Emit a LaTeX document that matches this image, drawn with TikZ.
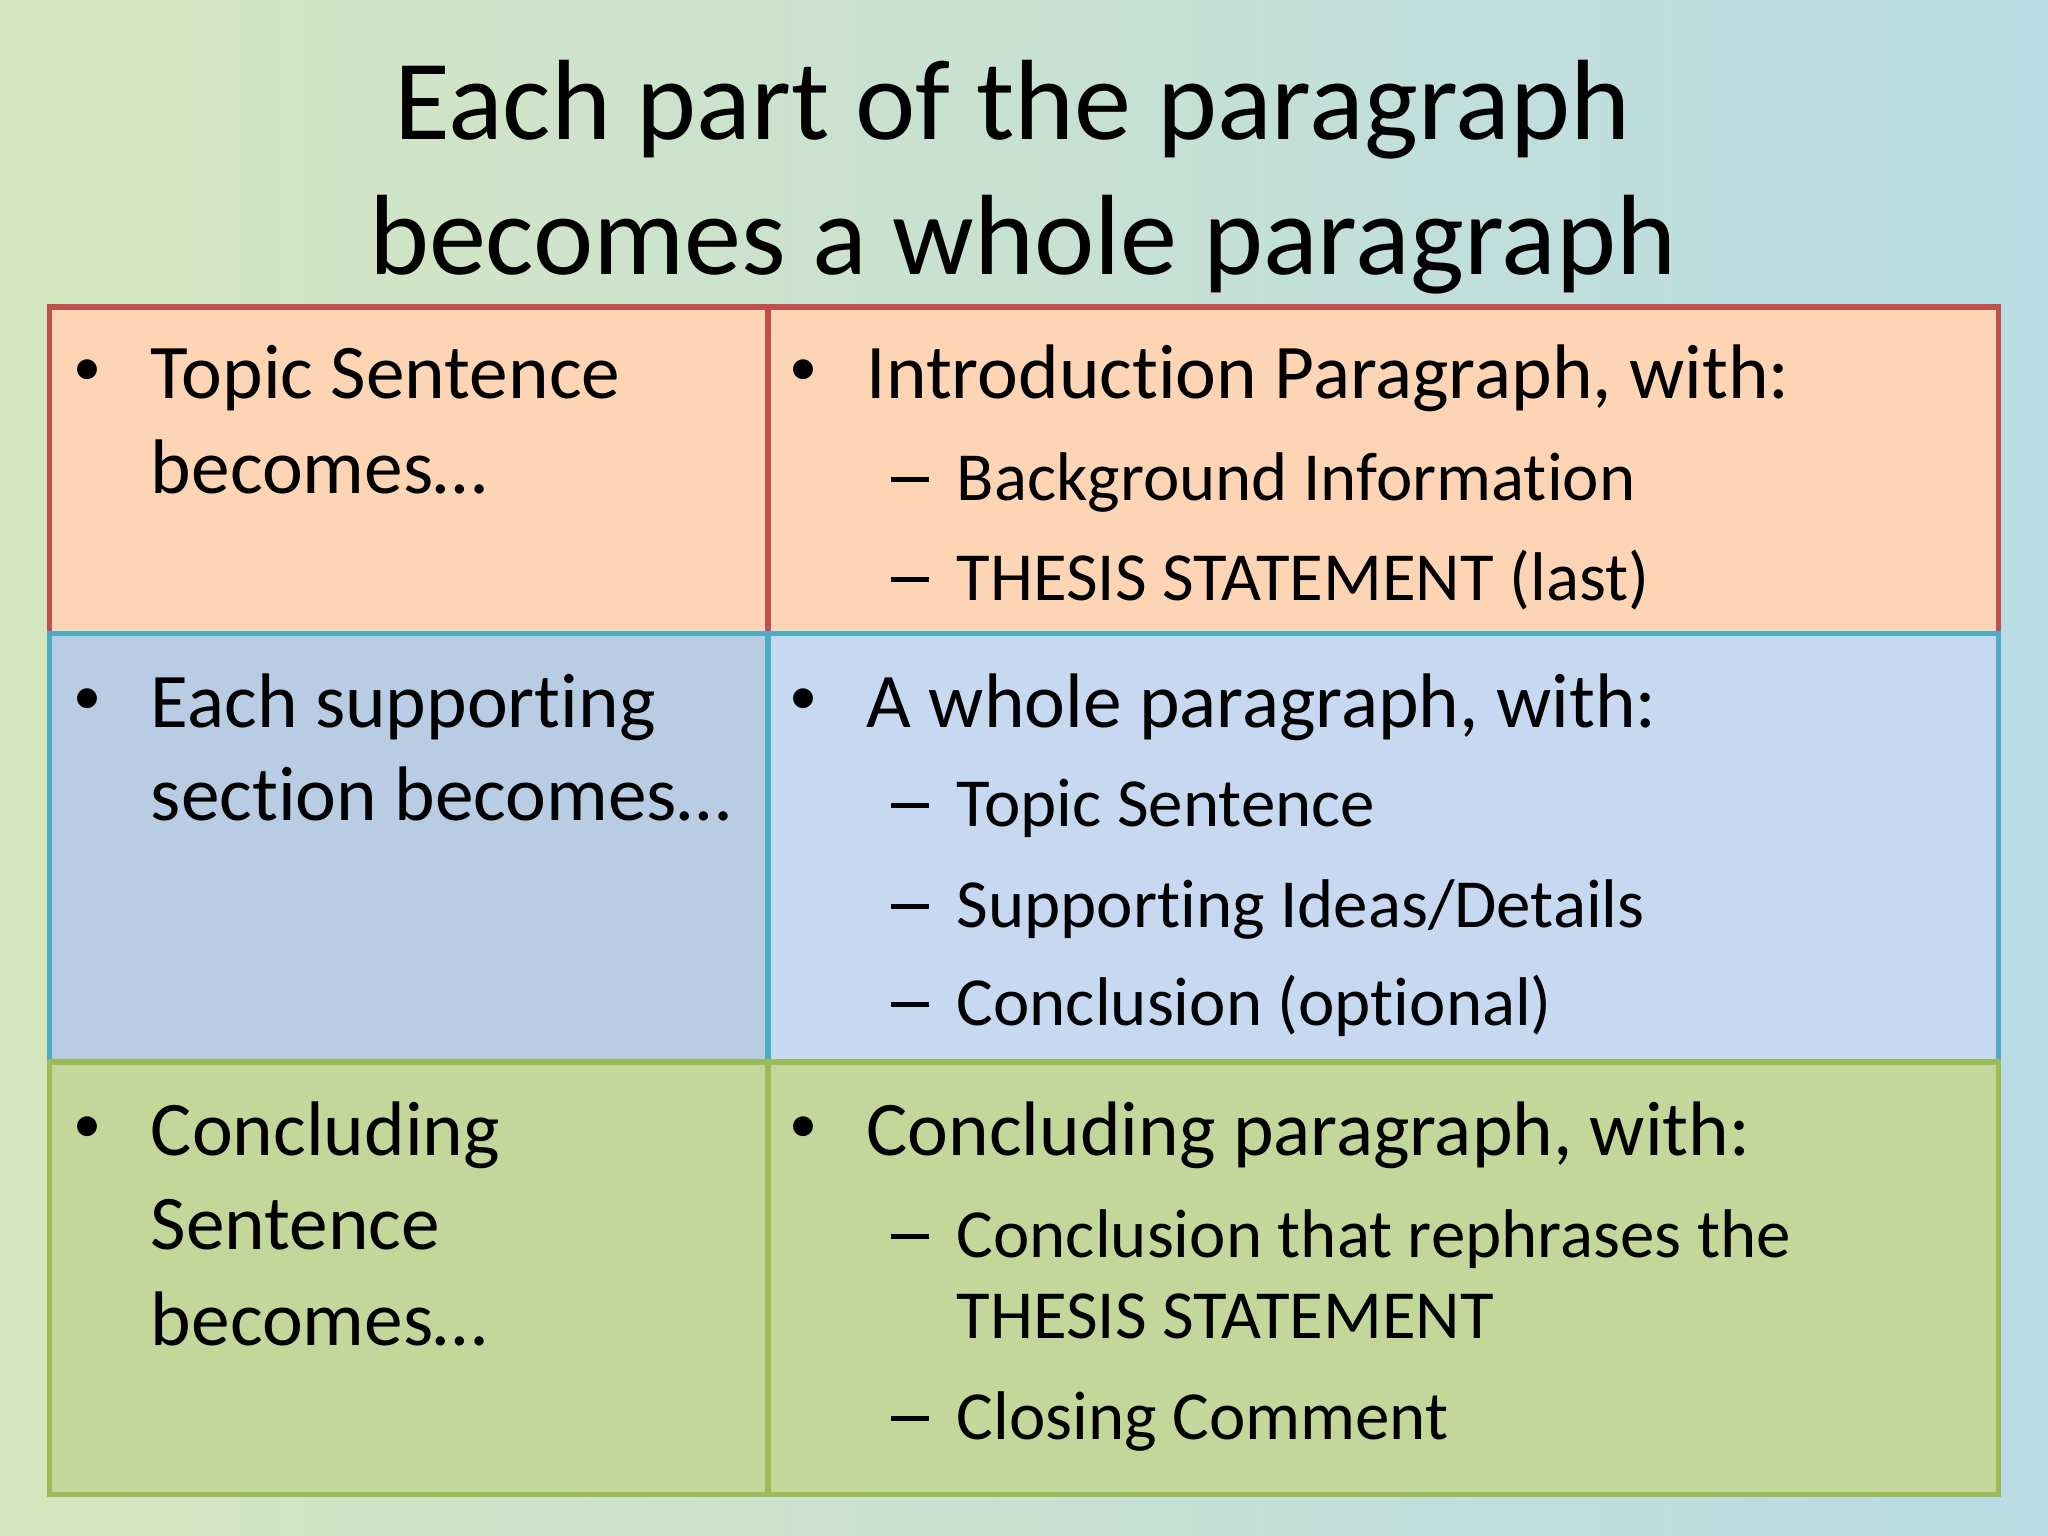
\documentclass[tikz,border=0pt]{standalone}
\usepackage{fontspec}
\setmainfont[Ligatures={NoCommon,NoContextual,NoRequired}]{Carlito}
\begin{document}
\begin{tikzpicture}[x=0.01306cm,y=-0.01306cm,
  body/.style={anchor=base west,inner sep=0pt,font=\fontsize{22}{26}\selectfont},
  sub/.style={anchor=base west,inner sep=0pt,font=\fontsize{19.6}{23}\selectfont},
  bul/.style={anchor=base west,inner sep=0pt,font=\fontsize{16}{20}\selectfont},
  dsh/.style={anchor=base west,inner sep=0pt,font=\fontsize{19.6}{23}\selectfont}]
\definecolor{bgl}{HTML}{D6E6BE}\definecolor{bgr}{HTML}{B8DCE6}
\definecolor{org}{HTML}{FDD5B5}\definecolor{bll}{HTML}{B8CCE4}\definecolor{blr}{HTML}{C6D9F1}
\definecolor{grn}{HTML}{C4D79B}
\definecolor{rb}{HTML}{C0504D}\definecolor{bb}{HTML}{4BACC6}\definecolor{gb}{HTML}{9BBB59}
\newcommand{\dashmark}{\rule[0.27em]{0.55em}{0.07em}}
\shade[left color=bgl,right color=bgr] (0,0) rectangle (1568,1176);
\useasboundingbox (0,0) rectangle (1568,1176);
\node[inner sep=0pt,anchor=base,font=\fontsize{32.5}{38}\selectfont] (t1) at (775,107) {Each part of the paragraph};
\node[inner sep=0pt,anchor=base,font=\fontsize{32.5}{38}\selectfont] (t2) at (783,210) {becomes a whole paragraph};
\draw[rb,line width=1.5pt,fill=org] (38,235) rectangle (588,485);
\draw[rb,line width=1.5pt,fill=org] (588,235) rectangle (1530,485);
\draw[bb,line width=1.5pt,fill=bll] (38,485) rectangle (588,813);
\draw[bb,line width=1.5pt,fill=blr] (588,485) rectangle (1530,813);
\draw[gb,line width=1.5pt,fill=grn] (38,813) rectangle (588,1144);
\draw[gb,line width=1.5pt,fill=grn] (588,813) rectangle (1530,1144);
% row 1
\node[bul] (b1) at (56,295) {•};
\node[body] (a1) at (115,305) {Topic Sentence};
\node[body] (a2) at (115,378) {becomes…};
\node[bul] (b2) at (604,295) {•};
\node[body] (c1) at (663,305) {Introduction Paragraph, with:};
\node[dsh] (d1) at (682,383) {\dashmark};
\node[sub] (c2) at (732,383) {Background Information};
\node[dsh] (d2) at (682,460) {\dashmark};
\node[sub] (c3) at (732,460) {THESIS STATEMENT (last)};
% row 2
\node[bul] (b3) at (56,547) {•};
\node[body] (a3) at (115,557) {Each supporting};
\node[body] (a4) at (115,628) {section becomes…};
\node[bul] (b4) at (604,547) {•};
\node[body] (c4) at (663,557) {A whole paragraph, with:};
\node[dsh] (d3) at (682,633) {\dashmark};
\node[sub] (c5) at (732,633) {Topic Sentence};
\node[dsh] (d4) at (682,710) {\dashmark};
\node[sub] (c6) at (732,710) {Supporting Ideas/Details};
\node[dsh] (d5) at (682,785) {\dashmark};
\node[sub] (c7) at (732,785) {Conclusion (optional)};
% row 3
\node[bul] (b5) at (56,875) {•};
\node[body] (a5) at (115,885) {Concluding};
\node[body] (a6) at (115,957) {Sentence};
\node[body] (a7) at (115,1030) {becomes…};
\node[bul] (b6) at (604,875) {•};
\node[body] (c8) at (663,885) {Concluding paragraph, with:};
\node[dsh] (d6) at (682,963) {\dashmark};
\node[sub] (c9) at (732,963) {Conclusion that rephrases the};
\node[sub] (c10) at (732,1025) {THESIS STATEMENT};
\node[dsh] (d7) at (682,1102) {\dashmark};
\node[sub] (c11) at (732,1102) {Closing Comment};
\end{tikzpicture}
\end{document}
